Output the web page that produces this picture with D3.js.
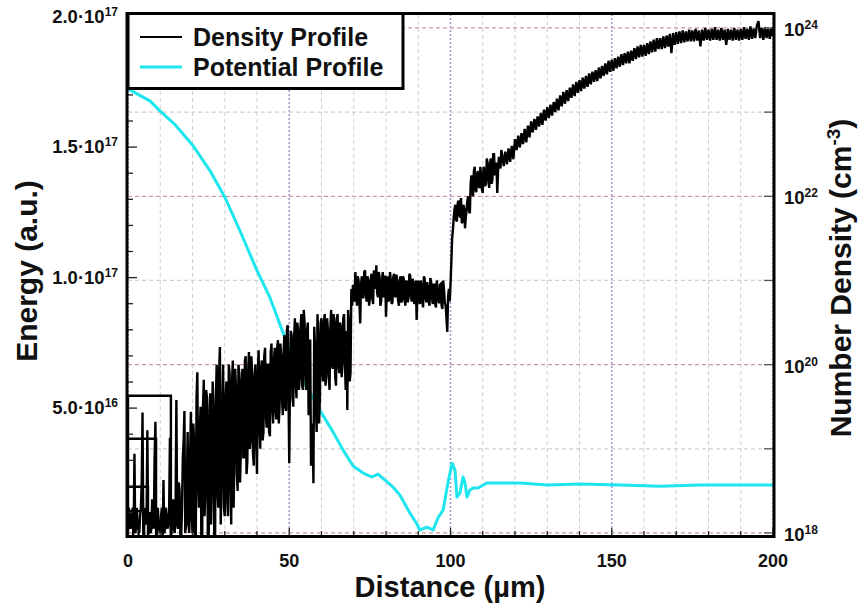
<!DOCTYPE html>
<html>
<head>
<meta charset="utf-8">
<script src="https://cdn.jsdelivr.net/npm/d3@7"></script>
<style>
  body { margin: 0; background: #fff; }
  svg { display: block; font-family: "Liberation Sans", Arial, sans-serif; font-weight: bold; }
</style>
</head>
<body>
<svg id="chart" width="859" height="609"></svg>
<script>
// ---- data ----
const distanceTicks = [0, 50, 100, 150, 200];
const energyTicks = [5e16, 1e17, 1.5e17, 2e17];
const energyTickLabels = [["5.0·10", "16"], ["1.0·10", "17"], ["1.5·10", "17"], ["2.0·10", "17"]];
const densityDecadeLabels = [18, 20, 22, 24];

// potential profile (left axis, a.u.)
const potentialDistance = [0, 2.8, 6.8, 9.9, 14.6, 20.2, 25.4, 30.1, 34.7, 40.0, 44.0, 49.3, 54.3, 59.5,
  63.6, 66.7, 69.8, 72.9, 75.7, 77.5, 79.7, 82.2, 84.3, 87.4, 89.6, 90.5, 92.7, 94.6, 96.1, 97.7,
  99.2, 100.5, 101.4, 102.0, 102.9, 103.9, 104.5, 105.1, 106.0, 107.0, 108.5, 111.3, 113.2, 121.6,
  130.0, 140.2, 152.6, 165.0, 177.4, 189.8, 200];
const potentialEnergy = [172.3e15, 170.4e15, 167.7e15, 163.9e15, 158.6e15, 150.5e15, 141.0e15, 130.6e15,
  118.0e15, 102.7e15, 92.4e15, 74.8e15, 60.7e15, 49.2e15, 40.8e15, 33.9e15, 27.8e15, 25.1e15, 23.6e15,
  24.7e15, 22.4e15, 19.7e15, 16.7e15, 9.8e15, 5.6e15, 3.3e15, 4.4e15, 3.3e15, 7.9e15, 10.9e15, 21.3e15,
  28.9e15, 26.2e15, 15.9e15, 17.4e15, 23.6e15, 21.3e15, 15.9e15, 18.6e15, 19.4e15, 19.4e15, 21.3e15,
  21.3e15, 21.3e15, 20.5e15, 20.9e15, 20.5e15, 20.1e15, 20.5e15, 20.5e15, 20.5e15];

// density profile (right axis), log10 of cm^-3, one sample every 0.5 um from 0 to 200
const densityStepUm = 0.5;
const densityLog10 = [
  18.0, 18.2, 18.1, 18.3, 18.94, 18.05, 18.1, 18.0, 18.3, 19.43,
  18.05, 18.2, 19.22, 18.0, 18.0, 18.4, 18.05, 19.32, 17.95, 18.1,
  18.0, 18.3, 18.63, 18.05, 18.2, 18.1, 19.13, 18.0, 18.4, 18.0,
  19.58, 18.05, 18.5, 17.95, 18.9, 19.45, 18.1, 19.2, 18.0, 19.44,
  18.0, 19.1, 17.8, 19.91, 18.3, 19.5, 17.9, 19.82, 18.5, 19.6,
  17.8, 19.66, 18.6, 19.5, 17.9, 20.0, 18.3, 20.21, 18.6, 20.0,
  18.2, 19.8, 18.2, 19.9, 18.1, 20.05, 18.9, 19.7, 18.5, 19.9,
  19.0, 19.95, 18.9, 20.1, 18.85, 20.15, 19.1, 19.9, 18.8, 20.0,
  18.7, 20.17, 19.0, 20.05, 19.2, 20.2, 19.25, 20.0, 19.15, 20.25,
  19.3, 20.2, 19.35, 20.29, 19.5, 20.1, 19.4, 20.35, 19.45, 20.47,
  18.83, 20.4, 19.6, 20.3, 19.8, 20.5, 19.7, 20.45, 19.75, 20.65,
  19.9, 20.4, 19.4, 20.3, 18.9, 18.59, 20.2, 19.2, 20.35, 19.6,
  20.55, 19.8, 20.6, 19.9, 20.4, 19.7, 20.65, 19.95, 20.5, 19.75,
  20.6, 19.9, 20.45, 20.0, 20.6, 19.7, 19.46, 20.5, 19.9, 20.7,
  20.85, 21.1, 20.7, 21.0, 20.49, 21.05, 20.8, 21.12, 20.75, 21.0,
  20.78, 21.08, 20.72, 21.02, 21.18, 20.8, 21.05, 20.75, 21.1, 20.82,
  20.57, 21.05, 20.78, 21.0, 20.74, 21.08, 20.8, 20.98, 20.7, 21.05,
  20.76, 21.02, 20.7, 20.98, 20.8, 21.06, 20.75, 20.97, 20.8, 20.53,
  21.0, 20.72, 20.95, 20.68, 21.02, 20.74, 20.93, 20.7, 20.98, 20.72,
  20.95, 20.68, 20.9, 20.73, 20.96, 20.66, 20.88, 20.7, 20.39, 20.9,
  20.95, 21.5, 21.75, 21.9, 21.7, 21.95, 21.75, 21.68, 21.9, 21.62,
  21.85, 22.0, 21.8, 22.25, 22.0, 22.35, 22.05, 22.3, 22.1, 22.25,
  22.04, 22.3, 22.15, 22.4, 22.1, 22.45, 22.2, 22.5, 22.3, 22.04,
  22.47, 22.33, 22.5, 22.36, 22.53, 22.38, 22.57, 22.41, 22.6, 22.44,
  22.68, 22.55, 22.72, 22.58, 22.75, 22.62, 22.8, 22.64, 22.84, 22.7,
  22.89, 22.76, 22.92, 22.79, 22.95, 22.83, 22.99, 22.85, 23.03, 22.9,
  23.06, 22.93, 23.09, 22.96, 23.12, 23.0, 23.16, 23.02, 23.2, 23.07,
  23.24, 23.1, 23.26, 23.13, 23.29, 23.17, 23.33, 23.19, 23.36, 23.23,
  23.38, 23.25, 23.41, 23.28, 23.43, 23.3, 23.46, 23.33, 23.48, 23.36,
  23.5, 23.37, 23.53, 23.4, 23.55, 23.43, 23.58, 23.45, 23.61, 23.48,
  23.62, 23.49, 23.64, 23.52, 23.66, 23.54, 23.69, 23.56, 23.7, 23.58,
  23.72, 23.58, 23.73, 23.61, 23.76, 23.63, 23.78, 23.65, 23.8, 23.66,
  23.8, 23.67, 23.82, 23.69, 23.84, 23.71, 23.86, 23.72, 23.88, 23.75,
  23.88, 23.75, 23.9, 23.76, 23.91, 23.78, 23.93, 23.7, 23.94, 23.8,
  23.95, 23.81, 23.96, 23.82, 23.97, 23.83, 23.96, 23.84, 23.98, 23.84,
  23.97, 23.84, 23.99, 23.85, 23.97, 23.78, 23.98, 23.85, 24.0, 23.86,
  23.98, 23.85, 23.99, 23.86, 24.01, 23.86, 23.98, 23.85, 24.0, 23.86,
  23.98, 23.8, 23.99, 23.86, 23.98, 23.85, 24.0, 23.86, 23.98, 23.85,
  23.99, 23.86, 24.01, 23.87, 23.99, 23.86, 24.02, 23.87, 23.99, 23.88,
  24.03, 24.08, 23.88, 24.0, 23.86, 24.01, 23.88, 23.99, 23.87, 24.0, 23.9
];
// extra samples halfway between the ones above (0.25, 0.75, ... um) in the noisy part, 0 to 116 um
const densityLog10Mid = [
  18.3, 18.05, 18.25, 18.0, 18.0, 18.3, 18.05, 18.2, 18.6, 17.95,
  18.3, 18.1, 18.0, 18.25, 18.05, 18.3, 18.9, 18.1, 18.3, 18.05,
  18.2, 17.95, 18.0, 18.3, 18.05, 18.25, 17.95, 18.2, 18.05, 18.3,
  18.1, 18.6, 17.95, 18.3, 19.1, 18.0, 18.6, 18.1, 18.9, 18.2,
  19.3, 17.9, 19.6, 18.6, 19.2, 17.8, 19.5, 18.2, 19.7, 18.0,
  19.4, 18.1, 19.8, 17.9, 19.6, 18.5, 19.9, 18.1, 19.5, 18.3,
  19.6, 18.4, 20.0, 18.6, 19.8, 18.3, 19.95, 18.7, 20.0, 18.6,
  19.8, 18.9, 20.05, 18.7, 19.9, 19.0, 20.1, 18.95, 19.85, 19.1,
  19.9, 19.3, 19.95, 19.1, 20.1, 19.4, 20.0, 19.2, 20.15, 19.5,
  20.05, 19.45, 20.2, 19.3, 20.25, 19.6, 20.15, 19.5, 20.4, 19.7,
  19.9, 20.35, 19.5, 20.55, 19.6, 20.4, 19.85, 20.6, 19.7, 20.5,
  19.7, 20.5, 19.9, 18.8, 19.3, 20.45, 19.5, 20.6, 19.3, 20.5,
  19.9, 20.5, 19.75, 20.55, 19.85, 20.45, 20.0, 20.6, 19.85, 20.55,
  20.0, 20.5, 19.85, 20.55, 20.05, 20.4, 20.65, 19.8, 20.9, 20.95,
  20.75, 20.9, 21.05, 20.75, 20.95, 20.8, 21.1, 20.85, 21.05, 20.7,
  21.0, 20.8, 21.12, 20.9, 20.85, 21.1, 20.7, 21.0, 20.8, 21.06,
  20.85, 20.75, 21.1, 20.72, 21.04, 20.82, 21.07, 20.76, 21.0, 20.74,
  21.05, 20.78, 21.0, 20.74, 21.08, 20.82, 21.02, 20.72, 21.0, 20.85,
  20.78, 21.0, 20.75, 21.05, 20.8, 20.98, 20.75, 21.03, 20.8, 20.95,
  20.72, 21.0, 20.76, 20.95, 20.7, 21.0, 20.74, 20.55, 20.8, 20.75,
  21.2, 21.6, 21.85, 21.72, 21.92, 21.78, 21.98, 21.7, 21.85, 21.75,
  21.95, 21.82, 22.15, 22.1, 22.3, 22.08, 22.25, 22.12, 22.35, 22.08,
  22.35, 22.12, 22.45, 22.2, 22.38, 22.15, 22.5, 22.25, 22.4, 22.3,
  22.42, 22.55
];
// the stray box-shaped strokes at the far left of the density trace ([um, log10])
const densityArtifacts = [
  [0, 17], [0, 19.63], [13.3, 19.63], [13.3, 17],
  [0, 17], [0, 19.12], [8.7, 19.12], [8.7, 17],
  [0, 17], [0, 18.55], [6.2, 18.55], [6.2, 17],
  [0, 17], [0, 18.26], [5.0, 18.26], [5.0, 17],
  [0, 17], [0, 18.15], [3.3, 18.15], [3.3, 17],
  [1.6, 17], [1.6, 18.3], [1.6, 17], [0, 17]
];

// ---- layout ----
const width = 859, height = 609;
const plot = { left: 128, right: 773, top: 14, bottom: 536 };
const ink = "#111";

const svg = d3.select("#chart");

const x = d3.scaleLinear().domain([0, 200]).range([plot.left, plot.right]);
const yEnergy = d3.scaleLinear().domain([1e15, 2.01e17]).range([plot.bottom, plot.top]);
const yDensity = d3.scaleLog().domain([Math.pow(10, 17.964), Math.pow(10, 24.166)]).range([plot.bottom, plot.top]);

svg.append("defs").append("clipPath").attr("id", "plot-clip")
  .append("rect")
  .attr("x", plot.left).attr("y", plot.top)
  .attr("width", plot.right - plot.left).attr("height", plot.bottom - plot.top);

// grid
const grid = svg.append("g");
d3.range(0, 201, 10).forEach(v => {
  const major = v % 50 === 0;
  grid.append("line")
    .attr("x1", x(v)).attr("x2", x(v))
    .attr("y1", plot.top).attr("y2", plot.bottom)
    .attr("stroke", major ? "#9c9cd2" : "#cfcfcf")
    .attr("stroke-width", major ? 1.6 : 1)
    .attr("stroke-dasharray", major ? "2,2" : "4,3");
});
d3.range(18, 25).forEach(p => {
  const even = p % 2 === 0;
  grid.append("line")
    .attr("x1", plot.left).attr("x2", plot.right)
    .attr("y1", yDensity(Math.pow(10, p))).attr("y2", yDensity(Math.pow(10, p)))
    .attr("stroke", even ? "#c99a9a" : "#cfcfcf")
    .attr("stroke-width", 1.2)
    .attr("stroke-dasharray", "4,3");
});

// potential profile
const potentialPoints = potentialDistance.map((d, i) => [d, potentialEnergy[i]]);
svg.append("path")
  .datum(potentialPoints)
  .attr("clip-path", "url(#plot-clip)")
  .attr("fill", "none")
  .attr("stroke", "#1ee6ee")
  .attr("stroke-width", 3)
  .attr("stroke-linejoin", "round")
  .attr("d", d3.line().x(d => x(d[0])).y(d => yEnergy(d[1])));

// density profile: regular samples merged with the in-between ones
const densitySamples = densityLog10.map((v, i) => [i * densityStepUm, v])
  .concat(densityLog10Mid.map((v, i) => [(i + 0.5) * densityStepUm, v]))
  .sort((a, b) => a[0] - b[0]);
const densityPoints = densityArtifacts.concat(densitySamples);
svg.append("path")
  .datum(densityPoints)
  .attr("clip-path", "url(#plot-clip)")
  .attr("fill", "none")
  .attr("stroke", "#000")
  .attr("stroke-width", 2.4)
  .attr("d", d3.line().x(d => x(d[0])).y(d => yDensity(Math.pow(10, d[1]))));

// ticks
const ticks = svg.append("g").attr("stroke", "#222");
d3.range(0, 201, 10).forEach(v => {
  const len = v % 50 === 0 ? 8 : 5;
  ticks.append("line").attr("x1", x(v)).attr("x2", x(v))
    .attr("y1", plot.bottom).attr("y2", plot.bottom - len).attr("stroke-width", 1.3);
});
d3.range(1e16, 2.01e17, 1e16).forEach(v => {
  const len = Math.round(v / 1e16) % 5 === 0 ? 9 : 5;
  ticks.append("line").attr("x1", plot.left).attr("x2", plot.left + len)
    .attr("y1", yEnergy(v)).attr("y2", yEnergy(v)).attr("stroke-width", 1.3);
});
d3.range(18, 25).forEach(p => {
  ticks.append("line").attr("x1", plot.right).attr("x2", plot.right - 9)
    .attr("y1", yDensity(Math.pow(10, p))).attr("y2", yDensity(Math.pow(10, p)))
    .attr("stroke-width", 1.3).attr("stroke", "#555");
});

// frame
svg.append("rect")
  .attr("x", plot.left - 1).attr("y", plot.top - 0.5)
  .attr("width", plot.right - plot.left + 2).attr("height", plot.bottom - plot.top + 1)
  .attr("fill", "none").attr("stroke", "#000").attr("stroke-width", 3);

// tick labels
svg.append("g").selectAll("text").data(distanceTicks).join("text")
  .attr("x", d => x(d)).attr("y", 567)
  .attr("text-anchor", "middle").attr("font-size", 18).attr("fill", ink)
  .text(d => d);

const energyLabels = svg.append("g");
energyTicks.forEach((v, i) => {
  const t = energyLabels.append("text")
    .attr("x", 118).attr("y", yEnergy(v) + 6)
    .attr("text-anchor", "end").attr("font-size", 18.5).attr("fill", ink);
  t.append("tspan").text(energyTickLabels[i][0]);
  t.append("tspan").attr("dy", -7).attr("font-size", 12).text(energyTickLabels[i][1]);
});

const densityLabels = svg.append("g");
densityDecadeLabels.forEach(p => {
  const t = densityLabels.append("text")
    .attr("x", 784).attr("y", yDensity(Math.pow(10, p)) + 8)
    .attr("font-size", 18.5).attr("fill", ink);
  t.append("tspan").text("10");
  t.append("tspan").attr("dy", -7).attr("font-size", 12).text(p);
});

// axis titles
svg.append("text")
  .attr("x", 450).attr("y", 597)
  .attr("text-anchor", "middle").attr("font-size", 29).attr("fill", ink)
  .text("Distance (µm)");

svg.append("text")
  .attr("transform", "translate(37,271) rotate(-90)")
  .attr("text-anchor", "middle").attr("font-size", 30).attr("fill", ink)
  .text("Energy (a.u.)");

const rightTitle = svg.append("text")
  .attr("transform", "translate(851,278) rotate(-90)")
  .attr("text-anchor", "middle").attr("font-size", 30).attr("fill", ink);
rightTitle.append("tspan").text("Number Density (cm");
rightTitle.append("tspan").attr("dy", -11).attr("font-size", 19).text("-3");
rightTitle.append("tspan").attr("dy", 11).text(")");

// legend
const legend = svg.append("g");
legend.append("rect")
  .attr("x", 128).attr("y", 13.5).attr("width", 275).attr("height", 75)
  .attr("fill", "#fff").attr("stroke", "#000").attr("stroke-width", 3);
const legendItems = [
  { label: "Density Profile", color: "#000", width: 1.8, y: 37 },
  { label: "Potential Profile", color: "#1ee6ee", width: 3.2, y: 67 }
];
legendItems.forEach(item => {
  legend.append("line")
    .attr("x1", 140).attr("x2", 182).attr("y1", item.y).attr("y2", item.y)
    .attr("stroke", item.color).attr("stroke-width", item.width);
  legend.append("text")
    .attr("x", 193).attr("y", item.y + 8.5)
    .attr("font-size", 25).attr("fill", ink)
    .text(item.label);
});
</script>
</body>
</html>
